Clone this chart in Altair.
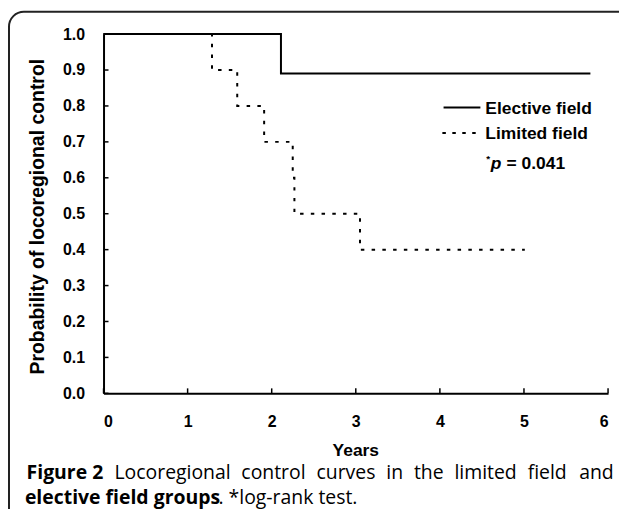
import altair as alt
import pandas as pd

# ---- data ----
elective_t = [0.0, 2.11, 5.79]
elective_s = [1.0, 0.89, 0.89]
limited_t = [0.0, 1.29, 1.59, 1.91, 2.25, 2.27, 3.05, 5.01]
limited_s = [1.0, 0.9, 0.8, 0.7, 0.6, 0.5, 0.4, 0.4]
x_ticks = [0, 1, 2, 3, 4, 5, 6]
y_ticks = [0.0, 0.1, 0.2, 0.3, 0.4, 0.5, 0.6, 0.7, 0.8, 0.9, 1.0]
legend_labels = ["Elective field", "Limited field"]
p_star = ["*"]
p_letter = ["p"]
p_value = ["= 0.041"]
x_title = ["Years"]
y_title = ["Probability of locoregional control"]
cap1_bold = ["Figure 2"]
cap1_words = ["Locoregional", "control", "curves", "in", "the", "limited", "field", "and"]
cap2_bold = ["elective field groups"]
cap2_reg = [". *log-rank test."]

# ---- layout (pixels, relative to plot origin) ----
W, H = 507, 361
AX_FONT = "Liberation Sans"
CAP_FONT = "Open Sans"
CAP_SIZE = 19.5
CAP1_Y, CAP2_Y = 447.0, 472.5
cap1_word_x = [11.0, 138.5, 214.0, 284.1, 311.9, 352.6, 426.2, 478.0]  # justified line

xs = alt.Scale(domain=[0, 6], nice=False, zero=False)
ys = alt.Scale(domain=[0, 1], nice=False)

x_axis = alt.Axis(values=x_ticks, format="d", title=None, grid=False, ticks=False,
                  labelFont=AX_FONT, labelFontWeight="bold", labelFontSize=16,
                  labelColor="black", labelPadding=20, domainColor="black",
                  domainWidth=2)
y_axis = alt.Axis(values=y_ticks, format=".1f", title=None, grid=False, ticks=False,
                  labelFont=AX_FONT, labelFontWeight="bold", labelFontSize=16,
                  labelColor="black", labelPadding=19, domainColor="black",
                  domainWidth=2)

df_el = pd.DataFrame({"t": elective_t, "s": elective_s})
df_li = pd.DataFrame({"t": limited_t, "s": limited_s})
df_xt = pd.DataFrame({"t": x_ticks})
df_yt = pd.DataFrame({"s": y_ticks})


def one(vals):
    return pd.DataFrame({"label": vals})


frame = alt.Chart(one(["frame"])).mark_rect(
    fillOpacity=0, stroke="#222", strokeWidth=2, cornerRadius=15
).encode(x=alt.value(-95), x2=alt.value(533), y=alt.value(-22.5), y2=alt.value(520))

limited = alt.Chart(df_li).mark_line(
    interpolate="step-after", color="black", strokeWidth=2, strokeDash=[3.5, 7.3]
).encode(x=alt.X("t:Q", scale=xs, axis=x_axis), y=alt.Y("s:Q", scale=ys, axis=y_axis))

elective = alt.Chart(df_el).mark_line(
    interpolate="step-after", color="black", strokeWidth=2
).encode(x=alt.X("t:Q", scale=xs, axis=x_axis), y=alt.Y("s:Q", scale=ys, axis=y_axis))

xticks = alt.Chart(df_xt).mark_rule(color="black", strokeWidth=1.5).encode(
    x=alt.X("t:Q", scale=xs, axis=x_axis), y=alt.value(H), y2=alt.value(H - 5))
yticks = alt.Chart(df_yt).mark_rule(color="black", strokeWidth=1.5).encode(
    y=alt.Y("s:Q", scale=ys, axis=y_axis), x=alt.value(0), x2=alt.value(5))

leg_solid = alt.Chart(one(legend_labels[:1])).mark_rule(color="black", strokeWidth=2).encode(
    x=alt.value(341.7), x2=alt.value(378.7), y=alt.value(73.7))
leg_dash = alt.Chart(one(legend_labels[1:])).mark_rule(
    color="black", strokeWidth=2, strokeDash=[3.5, 6.5]).encode(
    x=alt.value(340.5), x2=alt.value(378.5), y=alt.value(99.3))


def txt(vals, x, y, size, font=AX_FONT, weight="bold", style="normal",
        align="left", baseline="alphabetic", angle=0):
    return alt.Chart(one(vals)).mark_text(
        font=font, fontSize=size, fontWeight=weight, fontStyle=style,
        align=align, baseline=baseline, angle=angle, color="black"
    ).encode(x=alt.value(x), y=alt.value(y), text="label:N")


leg_t1 = txt(legend_labels[:1], 383.7, 80.3, 17.5)
leg_t2 = txt(legend_labels[1:], 383.7, 105.3, 17.5)
star = txt(p_star, 384.5, 129, 10)
pl = txt(p_letter, 389, 135.3, 17.5, style="italic")
pv = txt(p_value, 405, 135.3, 17.5)

xt = txt(x_title, 253.5, 424, 17.5, align="center")
yt = txt(y_title, -66, 183.5, 19.5, align="center", baseline="middle", angle=270)

c1b = txt(cap1_bold, -77.3, CAP1_Y, CAP_SIZE, font=CAP_FONT)
cap_words = pd.DataFrame({"label": cap1_words, "px": cap1_word_x})
c1r = alt.Chart(cap_words).mark_text(
    font=CAP_FONT, fontSize=CAP_SIZE, fontWeight="normal", align="left",
    baseline="alphabetic", color="black"
).encode(x=alt.X("px:Q", scale=None), y=alt.value(CAP1_Y), text="label:N")
c2b = txt(cap2_bold, -79, CAP2_Y, CAP_SIZE, font=CAP_FONT)
c2r = txt(cap2_reg, 115.5, CAP2_Y, CAP_SIZE, font=CAP_FONT, weight="normal")

chart = alt.layer(
    frame, limited, elective, xticks, yticks, leg_solid, leg_dash,
    leg_t1, leg_t2, star, pl, pv, xt, yt, c1b, c1r, c2b, c2r
).properties(
    width=W, height=H,
    autosize=alt.AutoSizeParams(type="none"),
    padding={"left": 96, "top": 25, "right": 11, "bottom": 115},
    background="white"
).configure_view(stroke=None)

chart.save("out.html", embed_options={"renderer": "svg", "actions": False})
